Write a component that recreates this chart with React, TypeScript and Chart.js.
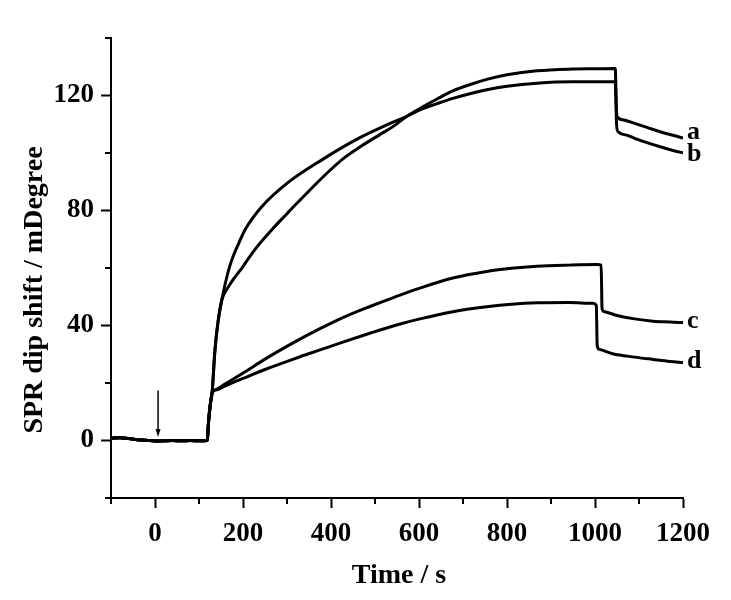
import React, { useEffect, useRef } from "react";
import { Chart, registerables } from "chart.js";
Chart.register(...registerables);

// Shared baseline before injection (time in s, shift in mDegree)
const baselineTime = [-100, -80, -60, -40, -20, 0, 20, 40, 60, 80, 100, 119];
const baselineValue = [0.8, 1.0, 0.7, 0.3, 0.1, -0.2, -0.1, 0.0, -0.1, 0.0, -0.1, 0.0];

const aTime = [121, 123, 126, 130, 136, 143, 152, 165, 180, 200, 211, 230, 266, 300, 318, 350, 393, 430, 470, 510, 539, 570, 602, 640, 677, 720, 754, 800, 868, 950, 1000, 1046, 1049, 1052, 1070, 1090, 1118, 1150, 1193, 1200];
const aValue = [5, 9, 13, 17, 31, 41, 49, 53, 56.5, 60.5, 63, 67, 73.4, 78.9, 81.8, 86.8, 93.3, 98.3, 102.5, 106.3, 109, 112.5, 115.5, 118.7, 121.6, 124, 125.6, 127.2, 128.6, 129.2, 129.3, 129.4, 114, 112.3, 111.3, 110.3, 108.9, 107.3, 105.5, 105.2];

const bTime = [121, 123, 126, 130, 136, 143, 152, 165, 175, 190, 205, 243, 302, 380, 455, 527, 570, 602, 640, 677, 720, 754, 800, 868, 950, 1046, 1049, 1052, 1070, 1090, 1118, 1150, 1193, 1200];
const bValue = [5, 9, 13, 17, 31, 41, 49, 58, 63, 68.5, 73.4, 81.4, 89.7, 97.7, 104.5, 109.8, 112.6, 115, 117.1, 119, 120.8, 122, 123.2, 124.3, 124.8, 124.8, 110, 107.5, 106.3, 105.1, 103.6, 102.1, 100.3, 100.1];

const cTime = [121, 124, 127, 130, 140, 160, 205, 250, 318, 375, 432, 490, 545, 602, 677, 754, 810, 868, 940, 1005, 1014, 1016, 1020, 1050, 1090, 1132, 1170, 1200];
const cValue = [5, 10, 14, 16.7, 17.8, 19.7, 23.9, 28.3, 34.3, 38.9, 43.1, 46.7, 49.9, 53, 56.5, 58.8, 59.9, 60.6, 61, 61.2, 61, 46, 44.9, 43.5, 42.3, 41.5, 41.2, 41];

const dTime = [121, 124, 127, 130, 140, 160, 205, 250, 318, 375, 432, 490, 545, 602, 677, 754, 810, 868, 940, 995, 1003, 1005, 1010, 1040, 1090, 1132, 1170, 1200];
const dValue = [5, 10, 14, 16.7, 17.6, 19, 21.9, 24.7, 28.5, 31.5, 34.5, 37.4, 40, 42.3, 44.8, 46.5, 47.4, 47.9, 48, 47.7, 47, 33, 31.7, 30.2, 29, 28.2, 27.5, 27.1];

const seriesLabels = ["a", "b", "c", "d"];

// Injection arrow (time, from value, to value)
const arrowTime = 7;
const arrowFrom = 17.4;
const arrowTo = 1.2;

const xTitle = "Time / s";
const yTitle = "SPR dip shift / mDegree";

const FONT = "'Liberation Serif', 'Times New Roman', serif";

function build(times: number[], values: number[]) {
  const t = [...baselineTime, ...times];
  const v = [...baselineValue, ...values];
  return t.map((x, i) => ({ x, y: v[i] }));
}

const overlay = {
  id: "overlay",
  afterDraw(chart: any) {
    const { ctx, chartArea, scales } = chart;
    const x = scales.x;
    const y = scales.y;
    ctx.save();
    ctx.strokeStyle = "#000";
    ctx.fillStyle = "#000";
    ctx.lineWidth = 2;
    // minor ticks
    for (const t of x.ticks) {
      const v = t.value;
      if (v < 0 || v % 200 !== 0) {
        const px = Math.round(x.getPixelForValue(v));
        ctx.beginPath();
        ctx.moveTo(px, chartArea.bottom);
        ctx.lineTo(px, chartArea.bottom + 6);
        ctx.stroke();
      }
    }
    for (const t of y.ticks) {
      const v = t.value;
      if (v % 40 !== 0) {
        const py = Math.round(y.getPixelForValue(v));
        ctx.beginPath();
        ctx.moveTo(chartArea.left, py);
        ctx.lineTo(chartArea.left - 6, py);
        ctx.stroke();
      }
    }
    // arrow
    const ax = x.getPixelForValue(arrowTime);
    const ay1 = y.getPixelForValue(arrowFrom);
    const ay2 = y.getPixelForValue(arrowTo);
    ctx.lineWidth = 1.5;
    ctx.beginPath();
    ctx.moveTo(ax, ay1);
    ctx.lineTo(ax, ay2 - 6);
    ctx.stroke();
    ctx.beginPath();
    ctx.moveTo(ax - 2.5, ay2 - 8);
    ctx.lineTo(ax + 2.5, ay2 - 8);
    ctx.lineTo(ax, ay2);
    ctx.closePath();
    ctx.fill();
    // series end labels
    ctx.font = `bold 26px ${FONT}`;
    ctx.textAlign = "left";
    ctx.textBaseline = "alphabetic";
    const ends = chart.data.datasets.map((ds: any) => y.getPixelForValue(ds.data[ds.data.length - 1].y));
    const pos = ends.slice();
    for (let i = 1; i < pos.length; i++) {
      const gap = pos[i] - pos[i - 1];
      if (gap < 22) {
        const shift = (22 - gap) / 2;
        pos[i - 1] -= shift;
        pos[i] += shift;
      }
    }
    seriesLabels.forEach((lab, i) => {
      ctx.fillText(lab, chartArea.right + 4, pos[i] + 5);
    });
    // axis titles
    ctx.font = `bold 28px ${FONT}`;
    ctx.textAlign = "center";
    ctx.textBaseline = "alphabetic";
    ctx.fillText(xTitle, 399, 583);
    ctx.translate(42, 290);
    ctx.rotate(-Math.PI / 2);
    ctx.fillText(yTitle, 0, 0);
    ctx.restore();
  },
};

export default function App() {
  const ref = useRef<HTMLCanvasElement | null>(null);
  useEffect(() => {
    if (!ref.current) return;
    const lineDs = (data: any[]) => ({
      data,
      borderColor: "#000",
      borderWidth: 3,
      pointRadius: 0,
      fill: false,
      cubicInterpolationMode: "monotone" as const,
    });
    const chart = new Chart(ref.current, {
      type: "line",
      data: {
        datasets: [
          { label: "a", ...lineDs(build(aTime, aValue)) },
          { label: "b", ...lineDs(build(bTime, bValue)) },
          { label: "c", ...lineDs(build(cTime, cValue)) },
          { label: "d", ...lineDs(build(dTime, dValue)) },
        ],
      },
      options: {
        animation: false,
        responsive: true,
        maintainAspectRatio: false,
        parsing: false as any,
        layout: { padding: { top: 38, right: 48, left: 0, bottom: 0 } },
        plugins: { legend: { display: false }, tooltip: { enabled: false } },
        scales: {
          x: {
            type: "linear",
            min: -100,
            max: 1200,
            afterFit: (s: any) => { s.height = 102; },
            border: { color: "#000", width: 2 },
            grid: {
              drawOnChartArea: false,
              tickLength: 10,
              tickWidth: 2,
              tickColor: (c: any) => (c.tick && c.tick.value >= 0 && c.tick.value % 200 === 0 ? "#000" : "rgba(0,0,0,0)"),
            },
            ticks: {
              stepSize: 100,
              autoSkip: false,
              maxRotation: 0,
              padding: 10,
              color: "#000",
              font: { family: FONT, size: 27, weight: "bold" },
              callback: (v: any) => (v >= 0 && v % 200 === 0 ? String(v) : ""),
            },
          },
          y: {
            type: "linear",
            min: -20,
            max: 140,
            afterFit: (s: any) => { s.width = 111; },
            border: { color: "#000", width: 2 },
            grid: {
              drawOnChartArea: false,
              tickLength: 10,
              tickWidth: 2,
              tickColor: (c: any) => (c.tick && c.tick.value % 40 === 0 ? "#000" : "rgba(0,0,0,0)"),
            },
            ticks: {
              stepSize: 20,
              autoSkip: false,
              padding: 7,
              color: "#000",
              font: { family: FONT, size: 27, weight: "bold" },
              callback: (v: any) => (v % 40 === 0 ? String(v) : ""),
            },
          },
        },
      },
      plugins: [overlay],
    });
    return () => chart.destroy();
  }, []);
  return (
    <div style={{ position: "fixed", left: 0, top: 0, width: 731, height: 600, background: "#fff" }}>
      <canvas ref={ref} />
    </div>
  );
}
